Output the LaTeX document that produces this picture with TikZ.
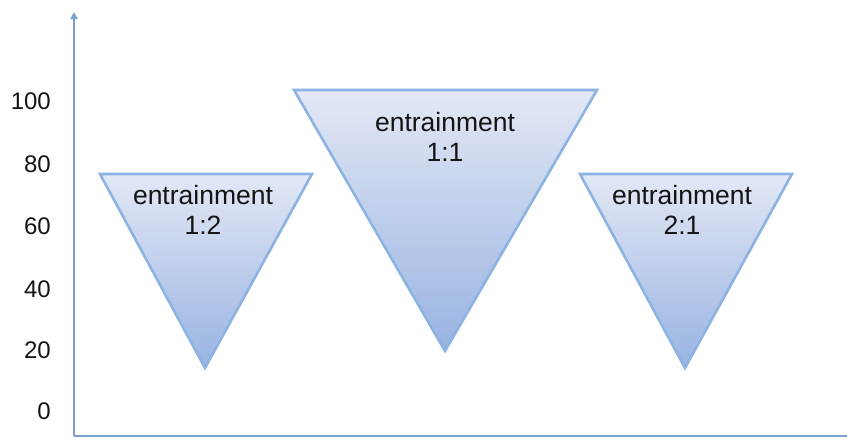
\documentclass[tikz,border=0pt]{standalone}
\usepackage{fontspec}
\setmainfont{Liberation Sans}
\usetikzlibrary{arrows.meta}
\definecolor{axisblue}{HTML}{7BA0CD}
\definecolor{edgeblue}{HTML}{8DB3E2}
\definecolor{filltop}{HTML}{E3E8F5}
\definecolor{fillbot}{HTML}{98B3E2}
\definecolor{labelgray}{HTML}{141414}
\tikzset{
  axisline/.style={draw=axisblue, line width=1.8pt},
  wedge/.style={draw=edgeblue, line width=2.6pt, line join=miter,
    top color=filltop, bottom color=fillbot},
  ticklabel/.style={anchor=east, text=labelgray, font=\fontsize{24}{27}\selectfont, inner sep=0pt},
  wedgelabel/.style={align=center, text=labelgray, font=\fontsize{26.5}{30}\selectfont, inner sep=0pt}
}
\begin{document}
\begin{tikzpicture}[x=1pt, y=-1pt]
\useasboundingbox (0,0) rectangle (847,439);

% axes
\coordinate (origin) at (74,436);
\coordinate (ytop) at (74,12);
\coordinate (xend) at (847,436);
\draw[axisline, -{Triangle[width=7pt,length=7pt]}] (origin) -- (ytop);
\draw[axisline] (origin) -- (xend);

% scale
\node[ticklabel] (t100) at (51,101) {100};
\node[ticklabel] (t80)  at (51,164) {80};
\node[ticklabel] (t60)  at (51,226) {60};
\node[ticklabel] (t40)  at (51,289) {40};
\node[ticklabel] (t20)  at (51,350) {20};
\node[ticklabel] (t0)   at (51,411) {0};

% inverted triangles
\path[wedge] (100,174) -- (312,174) -- (205,368) -- cycle;
\path[wedge] (294,90) -- (597,90) -- (445,351) -- cycle;
\path[wedge] (580,174) -- (792,174) -- (685,368) -- cycle;

% captions
\node[wedgelabel] (lab12) at (203,210) {entrainment\\1:2};
\node[wedgelabel] (lab11) at (445,137) {entrainment\\1:1};
\node[wedgelabel] (lab21) at (682,210) {entrainment\\2:1};
\end{tikzpicture}
\end{document}
